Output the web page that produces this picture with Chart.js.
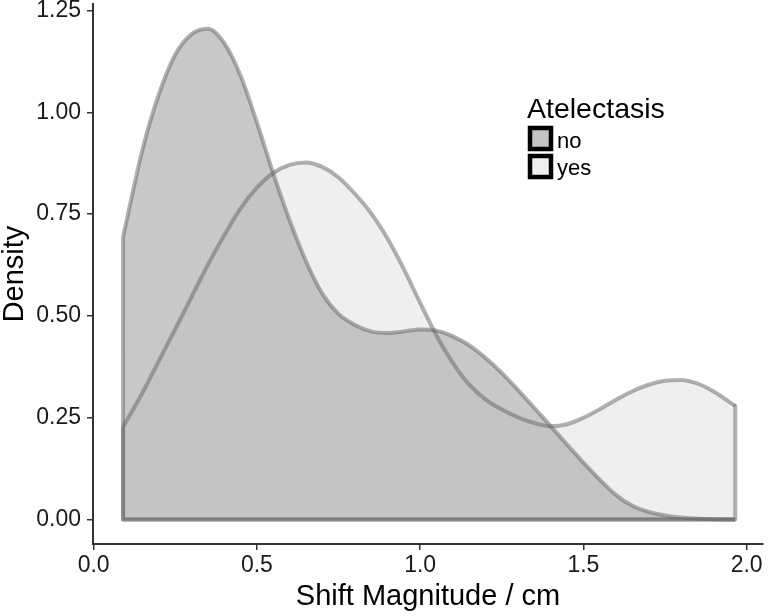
<!DOCTYPE html>
<html>
<head>
<meta charset="utf-8">
<script src="https://cdn.jsdelivr.net/npm/chart.js@4/dist/chart.umd.min.js"></script>
<style>
  html, body { margin: 0; padding: 0; background: #ffffff; }
  #wrap { position: relative; width: 768px; height: 616px; }
</style>
</head>
<body>
<div id="wrap"><canvas id="c" width="768" height="616"></canvas></div>
<script>
// ---- data ----
const shiftMagnitude = [0.09, 0.15, 0.20, 0.25, 0.30, 0.35, 0.40, 0.45, 0.50, 0.55, 0.60, 0.65, 0.70, 0.75, 0.80, 0.85, 0.90, 0.95, 1.00, 1.05, 1.10, 1.15, 1.20, 1.25, 1.30, 1.35, 1.40, 1.45, 1.50, 1.55, 1.60, 1.65, 1.70, 1.75, 1.80, 1.85, 1.90, 1.965];
const densityNo  = [0.694, 0.91, 1.045, 1.142, 1.192, 1.205, 1.17, 1.09, 0.975, 0.85, 0.735, 0.635, 0.555, 0.505, 0.478, 0.462, 0.458, 0.462, 0.467, 0.464, 0.450, 0.428, 0.397, 0.360, 0.318, 0.274, 0.229, 0.184, 0.140, 0.098, 0.060, 0.034, 0.019, 0.010, 0.005, 0.002, 0.001, 0.0];
const densityYes = [0.228, 0.312, 0.39, 0.468, 0.547, 0.626, 0.698, 0.764, 0.815, 0.851, 0.871, 0.877, 0.866, 0.84, 0.80, 0.752, 0.69, 0.615, 0.532, 0.452, 0.385, 0.332, 0.295, 0.27, 0.251, 0.237, 0.229, 0.234, 0.25, 0.271, 0.294, 0.315, 0.331, 0.341, 0.343, 0.334, 0.314, 0.279];
const seriesNames = ['no', 'yes'];
const xTickValues = [0.0, 0.5, 1.0, 1.5, 2.0];
const yTickValues = [0.00, 0.25, 0.50, 0.75, 1.00, 1.25];
const legendTitle = 'Atelectasis';
const xTitle = 'Shift Magnitude / cm';
const yTitle = 'Density';

// ---- styling ----
const FONT = "'Liberation Sans', Arial, Helvetica, sans-serif";
const lineCol = 'rgba(100,100,100,0.5)';
const fillNo = 'rgba(182,182,182,0.75)';
const fillYes = 'rgba(239,239,239,1)';
const legendSwatch = ['#c4c4c4', '#efefef'];

function curve(ys) { return shiftMagnitude.map((x, i) => ({ x: x, y: ys[i] })); }
function edges(ys) {
  const n = shiftMagnitude.length - 1;
  return [
    { x: shiftMagnitude[n], y: ys[n] },
    { x: shiftMagnitude[n], y: 0 },
    { x: shiftMagnitude[0], y: 0 },
    { x: shiftMagnitude[0], y: ys[0] }
  ];
}

const customLegend = {
  id: 'customLegend',
  afterDraw(chart) {
    const ctx = chart.ctx;
    ctx.save();
    ctx.fillStyle = '#000';
    ctx.textAlign = 'left';
    ctx.textBaseline = 'alphabetic';
    ctx.font = '28.5px ' + FONT;
    ctx.fillText(legendTitle, 527, 118);
    const boxTops = [126, 154];
    const baselines = [148, 175];
    ctx.font = '22px ' + FONT;
    seriesNames.forEach((name, i) => {
      const t = boxTops[i];
      ctx.fillStyle = legendSwatch[i];
      ctx.fillRect(530, t + 2, 21, 21);
      ctx.lineWidth = 4.5;
      ctx.strokeStyle = '#000';
      ctx.strokeRect(530, t + 2, 21, 21);
      ctx.fillStyle = '#000';
      ctx.fillText(name, 557, baselines[i]);
    });
    ctx.restore();
  }
};

const common = { pointRadius: 0, pointHoverRadius: 0, borderWidth: 4, borderColor: lineCol };

new Chart(document.getElementById('c'), {
  type: 'line',
  data: {
    datasets: [
      Object.assign({ label: seriesNames[0], data: curve(densityNo), fill: 'origin', backgroundColor: fillNo, cubicInterpolationMode: 'monotone' }, common),
      Object.assign({ label: seriesNames[1], data: curve(densityYes), fill: 'origin', backgroundColor: fillYes, cubicInterpolationMode: 'monotone' }, common),
      Object.assign({ label: seriesNames[0] + ' edge', data: edges(densityNo), fill: false, tension: 0, borderJoinStyle: 'round' }, common),
      Object.assign({ label: seriesNames[1] + ' edge', data: edges(densityYes), fill: false, tension: 0, borderJoinStyle: 'round' }, common)
    ]
  },
  options: {
    responsive: false,
    animation: false,
    layout: { padding: { top: 4, right: 5, left: 0, bottom: 0 } },
    plugins: {
      legend: { display: false },
      tooltip: { enabled: false },
      filler: { drawTime: 'beforeDatasetsDraw', propagate: false }
    },
    scales: {
      x: {
        type: 'linear',
        min: -0.002,
        max: 2.05,
        afterBuildTicks: s => { s.ticks = xTickValues.map(v => ({ value: v })); },
        afterFit: s => { s.height = 72; s.paddingLeft = 0; s.paddingRight = 0; },
        grid: { drawOnChartArea: false, drawTicks: true, tickLength: 6, color: '#333', lineWidth: 1.5 },
        border: { display: true, color: '#333', width: 2 },
        ticks: { font: { size: 23, family: FONT }, color: '#1a1a1a', padding: 2, maxRotation: 0, autoSkip: false,
                 callback: v => Number(v).toFixed(1) },
        title: { display: true, text: xTitle, color: '#000', font: { size: 29, family: FONT, lineHeight: 1 }, padding: { top: 0, bottom: 5 } }
      },
      y: {
        type: 'linear',
        min: -0.06,
        max: 1.266,
        afterBuildTicks: s => { s.ticks = yTickValues.map(v => ({ value: v })); },
        afterFit: s => { s.width = 93; s.paddingTop = 0; s.paddingBottom = 0; },
        grid: { drawOnChartArea: false, drawTicks: true, tickLength: 6, color: '#333', lineWidth: 1.5 },
        border: { display: true, color: '#333', width: 2 },
        ticks: { font: { size: 23, family: FONT }, color: '#1a1a1a', padding: 6, autoSkip: false,
                 callback: v => Number(v).toFixed(2) },
        title: { display: true, text: yTitle, color: '#000', font: { size: 29, family: FONT, lineHeight: 1 }, padding: { top: 0, bottom: 0 } }
      }
    }
  },
  plugins: [customLegend]
});
</script>
</body>
</html>
